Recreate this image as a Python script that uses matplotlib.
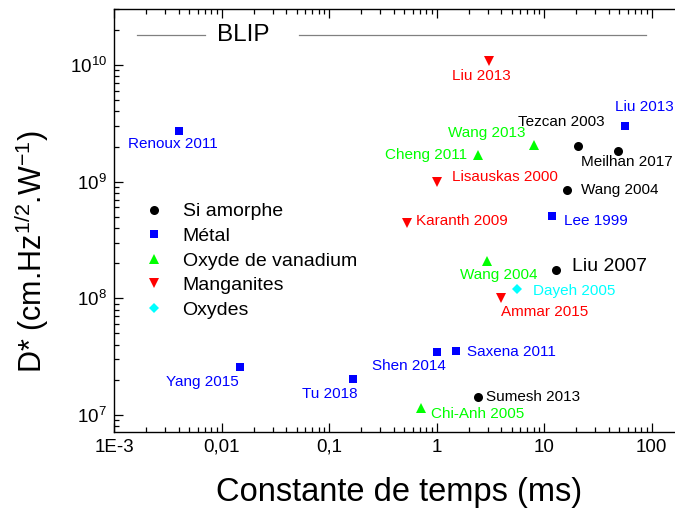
import matplotlib
matplotlib.use("Agg")
import matplotlib.pyplot as plt
from matplotlib.ticker import LogLocator, FixedLocator, FixedFormatter, NullFormatter

plt.rcParams['font.family'] = ['Liberation Sans', 'DejaVu Sans']
plt.rcParams['mathtext.fontset'] = 'custom'
plt.rcParams['mathtext.rm'] = 'Liberation Sans'
plt.rcParams['mathtext.it'] = 'Liberation Sans:italic'
plt.rcParams['mathtext.bf'] = 'Liberation Sans:bold'

# --- data: time constant (ms) and detectivity D* ---
si_names = ["Tezcan 2003", "Meilhan 2017", "Wang 2004", "Liu 2007", "Sumesh 2013"]
si_tau = [20.5, 48.5, 16.2, 12.9, 2.45]
si_d = [2.02e9, 1.83e9, 8.4e8, 1.75e8, 1.43e7]

met_names = ["Renoux 2011", "Liu 2013", "Lee 1999", "Saxena 2011", "Shen 2014",
             "Yang 2015", "Tu 2018"]
met_tau = [0.0040, 56.8, 11.8, 1.53, 1.0, 0.0149, 0.169]
met_d = [2.72e9, 3.0e9, 5.07e8, 3.56e7, 3.44e7, 2.56e7, 2.03e7]

vox_names = ["Wang 2013", "Cheng 2011", "Wang 2004", "Chi-Anh 2005"]
vox_tau = [8.1, 2.42, 2.97, 0.716]
vox_d = [2.06e9, 1.69e9, 2.09e8, 1.14e7]

mn_names = ["Liu 2013", "Lisauskas 2000", "Karanth 2009", "Ammar 2015"]
mn_tau = [3.1, 1.0, 0.527, 3.94]
mn_d = [1.08e10, 1.0e9, 4.45e8, 1.0e8]

ox_names = ["Dayeh 2005"]
ox_tau = [5.6]
ox_d = [1.2e8]

blip_d = 1.8e10
blip_segments = [(0.00164, 0.00703), (0.0526, 89)]
blip_text_x = 0.016

xticks = [1e-3, 0.01, 0.1, 1, 10, 100]
xticklabels = ["1E-3", "0,01", "0,1", "1", "10", "100"]

# label offsets in pixels (dx, dy, ha)
offsets = {
    ("si", "Tezcan 2003"): (-60, 24, "left"),
    ("si", "Meilhan 2017"): (-37, -11, "left"),
    ("si", "Wang 2004"): (14, 0, "left"),
    ("si", "Liu 2007"): (16, 3, "left"),
    ("si", "Sumesh 2013"): (8, 0, "left"),
    ("met", "Renoux 2011"): (-51, -13, "left"),
    ("met", "Liu 2013"): (-10, 19, "left"),
    ("met", "Lee 1999"): (12, -5, "left"),
    ("met", "Saxena 2011"): (11, -1, "left"),
    ("met", "Shen 2014"): (-64, -14, "left"),
    ("met", "Yang 2015"): (-74, -15, "left"),
    ("met", "Tu 2018"): (-51, -15, "left"),
    ("vox", "Wang 2013"): (-86, 12, "left"),
    ("vox", "Cheng 2011"): (-11, 0, "right"),
    ("vox", "Wang 2004"): (-27, -14, "left"),
    ("vox", "Chi-Anh 2005"): (10, -6, "left"),
    ("mn", "Liu 2013"): (-8, -15, "center"),
    ("mn", "Lisauskas 2000"): (16, 5, "left"),
    ("mn", "Karanth 2009"): (9, 2, "left"),
    ("mn", "Ammar 2015"): (0, -14, "left"),
    ("ox", "Dayeh 2005"): (16, -2, "left"),
}

series = [
    ("si", "Si amorphe", si_names, si_tau, si_d, "o", "black", 6.5),
    ("met", "Métal", met_names, met_tau, met_d, "s", "#0000ff", 5.8),
    ("vox", "Oxyde de vanadium", vox_names, vox_tau, vox_d, "^", "#00ff00", 7),
    ("mn", "Manganites", mn_names, mn_tau, mn_d, "v", "#ff0000", 7),
    ("ox", "Oxydes", ox_names, ox_tau, ox_d, "D", "#00ffff", 5.5),
]

fig = plt.figure(figsize=(6.75, 5.12), dpi=100)
ax = fig.add_axes([114 / 675, 80 / 512, 575 / 675, 422.7 / 512])
ax.set_xscale("log")
ax.set_yscale("log")
ax.set_xlim(1e-3, 10 ** (-3 + 575 / 107.5))
ax.set_ylim(7.14e6, 3.0e10)

for key, leg, names, tau, d, mk, col, ms in series:
    ax.plot(tau, d, linestyle="none", marker=mk, color=col, markersize=ms,
            markeredgewidth=0, label=leg)
    for n, x, y in zip(names, tau, d):
        dx, dy, ha = offsets[(key, n)]
        fs = 14 if n == "Liu 2007" else 11
        ax.annotate(n, (x, y), xytext=(dx, dy), textcoords="offset pixels",
                    ha=ha, va="center", color=col, fontsize=fs)

# BLIP limit
for x0, x1 in blip_segments:
    ax.plot([x0, x1], [blip_d, blip_d], color="#808080", lw=0.9)
ax.text(blip_text_x, blip_d, "BLIP", fontsize=17.5, ha="center", va="center")

ax.xaxis.set_major_locator(FixedLocator(xticks))
ax.xaxis.set_major_formatter(FixedFormatter(xticklabels))
ax.xaxis.set_minor_locator(LogLocator(base=10, subs=range(2, 10), numticks=20))
ax.xaxis.set_minor_formatter(NullFormatter())
ax.yaxis.set_major_locator(LogLocator(base=10, numticks=20))
ax.yaxis.set_minor_locator(LogLocator(base=10, subs=range(2, 10), numticks=20))
ax.yaxis.set_minor_formatter(NullFormatter())

ax.tick_params(which="both", direction="in", top=True, right=True, width=0.9)
ax.tick_params(which="major", length=6.5, labelsize=13.5, pad=5)
ax.tick_params(which="minor", length=3.6)
for s in ax.spines.values():
    s.set_linewidth(1.0)

ax.set_xlabel("Constante de temps (ms)", fontsize=23.5)
ax.xaxis.set_label_coords(0.496, -0.106)
ax.set_ylabel(r"D* (cm.Hz$^{1/2}$.W$^{-1}$)", fontsize=22)
ax.yaxis.set_label_coords(-0.110, 0.428)

ax.legend(loc="center left", bbox_to_anchor=(0.039, 0.405), frameon=False,
          fontsize=14, handlelength=1.0, handletextpad=0.97, borderpad=0.4,
          borderaxespad=0, labelspacing=0.36, numpoints=1)

fig.savefig("out.png", dpi=100)
